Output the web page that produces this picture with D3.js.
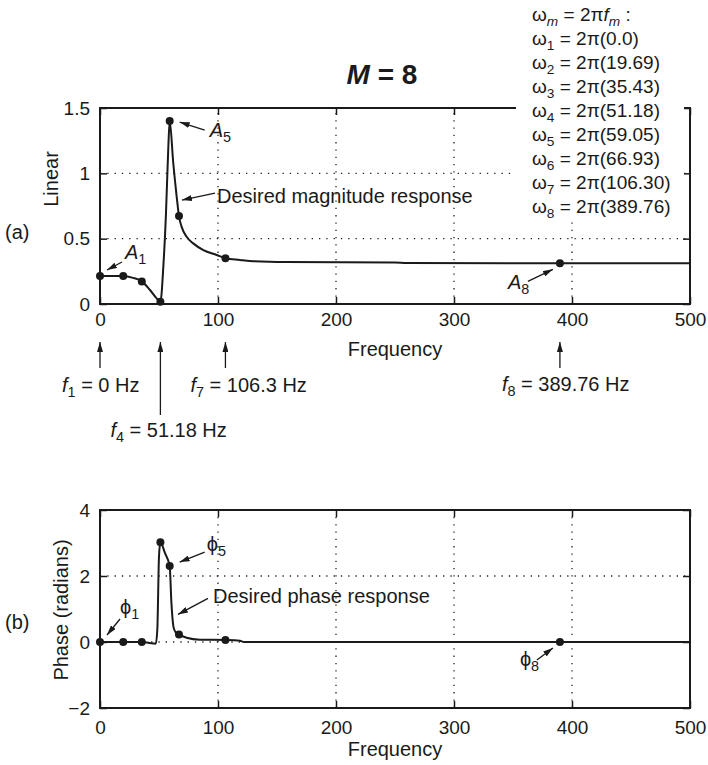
<!DOCTYPE html>
<html>
<head>
<meta charset="utf-8">
<script src="https://cdn.jsdelivr.net/npm/d3@7"></script>
<style>
  body { margin: 0; background: #fff; }
  svg { font-family: "Liberation Sans", Arial, sans-serif; fill: #1a1a1a; }
</style>
</head>
<body>
<script>
// sample frequencies (Hz) and the desired response at them
var markFreq = [0, 19.69, 35.43, 51.18, 59.05, 66.93, 106.30, 389.76];
var freqLabels = ["0.0", "19.69", "35.43", "51.18", "59.05", "66.93", "106.30", "389.76"];
var magMark = [0.214, 0.214, 0.173, 0.018, 1.40, 0.673, 0.35, 0.311];
var phaseMark = [0, 0, 0, 3.02, 2.30, 0.23, 0.06, 0];

// continuous curves
var magCurveFreq = [0, 10, 19.69, 28, 35.43, 42.4, 48, 51.18, 53.7, 55.9, 57.9, 59.05, 62.1, 65, 66.93, 69.2, 73.4, 79, 87.6, 98.9, 106.3, 118.6, 127, 158, 250, 260, 389.76, 500];
var magCurveVal  = [0.214, 0.214, 0.214, 0.20, 0.173, 0.107, 0.043, 0.018, 0.29, 0.69, 1.20, 1.40, 1.077, 0.82, 0.673, 0.59, 0.515, 0.464, 0.413, 0.375, 0.35, 0.337, 0.329, 0.321, 0.318, 0.313, 0.311, 0.311];
var phaseCurveFreq = [0, 19.69, 35.43, 42, 47.3, 48.6, 50, 51.18, 55.1, 59.05, 60.5, 62.3, 64, 66.93, 73.4, 84.7, 106.3, 118.6, 122, 389.76, 500];
var phaseCurveVal  = [0, 0, 0, -0.03, -0.05, 0.4, 2.6, 3.02, 2.69, 2.30, 1.2, 0.45, 0.3, 0.23, 0.13, 0.07, 0.06, 0.04, 0, 0, 0];

var xTicks = [0, 100, 200, 300, 400, 500];
var magTicks = [0, 0.5, 1, 1.5];
var phaseTicks = [-2, 0, 2, 4];

var PHI = "\u03d5";

window.onload = function() {
    var svg = d3.select("body").append("svg")
        .attr("width", 708).attr("height", 765);

    var defs = svg.append("defs");
    defs.append("marker")
        .attr("id", "ah")
        .attr("viewBox", "0 0 10 6")
        .attr("refX", 10).attr("refY", 3)
        .attr("markerWidth", 10).attr("markerHeight", 6)
        .attr("markerUnits", "userSpaceOnUse")
        .attr("orient", "auto")
        .append("path").attr("d", "M0,0L10,3L0,6z").style("fill", "#1a1a1a");

    var x = d3.scaleLinear().domain([0, 500]).range([100, 690]);
    var yMag = d3.scaleLinear().domain([0, 1.5]).range([304, 108]);
    var yPh = d3.scaleLinear().domain([-2, 4]).range([708, 510]);
    var fmt = d3.format("");

    // text with italic / subscript pieces
    function rich(g, px, py, parts, size) {
        var t = g.append("text").attr("x", px).attr("y", py).style("font-size", size + "px");
        var down = false;
        parts.forEach(function(p) {
            var s = t.append("tspan").text(p.t);
            if (p.it) s.style("font-style", "italic");
            if (p.sub && !down) { s.attr("dy", 5).style("font-size", (size * 0.72) + "px"); down = true; }
            else if (p.sub) { s.style("font-size", (size * 0.72) + "px"); }
            else if (down) { s.attr("dy", -5); down = false; }
        });
        return t;
    }

    function panel(y, yTicks, gridY, cf, cv, mv, xPad) {
        var g = svg.append("g");
        var y0 = y.range()[0], y1 = y.range()[1];

        // dotted grid
        g.selectAll(".gx").data([100, 200, 300, 400]).enter().append("line")
            .attr("x1", function(d) { return x(d); }).attr("x2", function(d) { return x(d); })
            .attr("y1", y0).attr("y2", y1)
            .style("stroke", "#222").style("stroke-width", 1.3).style("stroke-dasharray", "1.3,6");
        g.selectAll(".gy").data(gridY).enter().append("line")
            .attr("x1", x(0)).attr("x2", x(500))
            .attr("y1", function(d) { return y(d); }).attr("y2", function(d) { return y(d); })
            .style("stroke", "#222").style("stroke-width", 1.3).style("stroke-dasharray", "1.3,6");

        g.append("g").attr("transform", "translate(0," + y0 + ")")
            .call(d3.axisBottom(x).tickValues(xTicks).tickFormat(fmt).tickSizeInner(-7).tickSizeOuter(0).tickPadding(xPad));
        g.append("g").attr("transform", "translate(" + x(0) + ",0)")
            .call(d3.axisLeft(y).tickValues(yTicks).tickFormat(fmt).tickSizeInner(-7).tickSizeOuter(0).tickPadding(10));
        g.append("g").attr("transform", "translate(0," + y1 + ")")
            .call(d3.axisTop(x).tickValues(xTicks).tickSizeInner(-7).tickSizeOuter(0).tickFormat(""));
        g.append("g").attr("transform", "translate(" + x(500) + ",0)")
            .call(d3.axisRight(y).tickValues(yTicks).tickSizeInner(-7).tickSizeOuter(0).tickFormat(""));
        g.selectAll(".domain").remove();
        g.selectAll(".tick line").style("stroke", "#1a1a1a").style("stroke-width", 1.5);
        g.selectAll(".tick text").style("font-size", "19px").style("font-family", "Liberation Sans, Arial, sans-serif").attr("fill", "#1a1a1a");

        g.append("rect")
            .attr("x", x(0)).attr("y", y1)
            .attr("width", x(500) - x(0)).attr("height", y0 - y1)
            .style("fill", "none").style("stroke", "#1a1a1a").style("stroke-width", 2);

        var pts = cf.map(function(f, i) { return [f, cv[i]]; });
        g.append("path").datum(pts)
            .attr("d", d3.line().x(function(d) { return x(d[0]); }).y(function(d) { return y(d[1]); }).curve(d3.curveMonotoneX))
            .style("fill", "none").style("stroke", "#1a1a1a").style("stroke-width", 2);

        g.selectAll(".dot").data(markFreq).enter().append("circle")
            .attr("cx", function(d) { return x(d); })
            .attr("cy", function(d, i) { return y(mv[i]); })
            .attr("r", 4).style("fill", "#1a1a1a");
        return g;
    }

    var gA = panel(yMag, magTicks, [0.5, 1], magCurveFreq, magCurveVal, magMark, 9);
    var gB = panel(yPh, phaseTicks, [0, 2], phaseCurveFreq, phaseCurveVal, phaseMark, 13);

    // annotations attached to marker points
    function annotate(g, y, mv, list) {
        list.forEach(function(a) {
            var px = x(markFreq[a.i]), py = y(mv[a.i]);
            g.append("line")
                .attr("x1", px + a.tail[0]).attr("y1", py + a.tail[1])
                .attr("x2", px + a.head[0]).attr("y2", py + a.head[1])
                .style("stroke", "#1a1a1a").style("stroke-width", 1.3)
                .attr("marker-end", "url(#ah)");
            rich(g, px + a.txt[0], py + a.txt[1], a.parts, a.size || 20);
        });
    }

    annotate(gA, yMag, magMark, [
        { i: 0, head: [7, -6], tail: [22, -14], txt: [25, -17], parts: [{ t: "A", it: 1 }, { t: "1", sub: 1 }] },
        { i: 4, head: [10, 1], tail: [35, 9], txt: [40, 16], parts: [{ t: "A", it: 1 }, { t: "5", sub: 1 }] },
        { i: 5, head: [3, -16], tail: [36, -23], txt: [38, -13], parts: [{ t: "Desired magnitude response" }] },
        { i: 7, head: [-7, 6], tail: [-32, 18], txt: [-52, 26], parts: [{ t: "A", it: 1 }, { t: "8", sub: 1 }] }
    ]);
    annotate(gB, yPh, phaseMark, [
        { i: 0, head: [7, -7], tail: [20, -23], txt: [20, -28], parts: [{ t: PHI }, { t: "1", sub: 1 }] },
        { i: 4, head: [10, -4], tail: [35, -14], txt: [37, -15], parts: [{ t: PHI }, { t: "5", sub: 1 }] },
        { i: 5, head: [-1, -20], tail: [29, -36], txt: [34, -31], parts: [{ t: "Desired phase response" }] },
        { i: 7, head: [-7, 6], tail: [-23, 18], txt: [-40, 24], parts: [{ t: PHI }, { t: "8", sub: 1 }] }
    ]);

    // frequency call-outs under panel (a)
    var fAnn = [
        { i: 0, y2: 368, dx: -38, base: 392, sub: "1", rest: " = 0 Hz" },
        { i: 3, y2: 415, dx: -50, base: 437, sub: "4", rest: " = 51.18 Hz" },
        { i: 6, y2: 368, dx: -35, base: 392, sub: "7", rest: " = 106.3 Hz" },
        { i: 7, y2: 368, dx: -58, base: 391, sub: "8", rest: " = 389.76 Hz" }
    ];
    fAnn.forEach(function(a) {
        var px = x(markFreq[a.i]);
        svg.append("line")
            .attr("x1", px).attr("y1", a.y2).attr("x2", px).attr("y2", 342)
            .style("stroke", "#1a1a1a").style("stroke-width", 1.3)
            .attr("marker-end", "url(#ah)");
        rich(svg, px + a.dx, a.base, [{ t: "f", it: 1 }, { t: a.sub, sub: 1 }, { t: a.rest }], 20);
    });

    // axis titles
    svg.append("text").attr("x", 395).attr("y", 356).attr("text-anchor", "middle")
        .style("font-size", "20px").text("Frequency");
    svg.append("text").attr("x", 395).attr("y", 756).attr("text-anchor", "middle")
        .style("font-size", "20px").text("Frequency");
    svg.append("text").attr("transform", "translate(58,179) rotate(-90)").attr("text-anchor", "middle")
        .style("font-size", "20px").text("Linear");
    svg.append("text").attr("transform", "translate(68,610) rotate(-90)").attr("text-anchor", "middle")
        .style("font-size", "20px").text("Phase (radians)");
    svg.append("text").attr("x", 5).attr("y", 239).style("font-size", "20px").text("(a)");
    svg.append("text").attr("x", 5).attr("y", 629).style("font-size", "20px").text("(b)");

    // title
    var tt = svg.append("text").attr("x", 382).attr("y", 84).attr("text-anchor", "middle")
        .style("font-size", "28px").style("font-weight", "bold");
    tt.append("tspan").style("font-style", "italic").text("M");
    tt.append("tspan").text(" = 8");

    // omega legend, white box over the corner of panel (a)
    svg.append("rect").attr("x", 516).attr("y", 0).attr("width", 168).attr("height", 222).style("fill", "#fff");
    var lg = svg.append("g");
    rich(lg, 532, 21, [{ t: "\u03c9" }, { t: "m", sub: 1, it: 1 }, { t: " = 2\u03c0" }, { t: "f", it: 1 }, { t: "m", sub: 1, it: 1 }, { t: " :" }], 19);
    freqLabels.forEach(function(s, k) {
        rich(lg, 532, 45 + k * 24, [{ t: "\u03c9" }, { t: String(k + 1), sub: 1 }, { t: " = 2\u03c0(" + s + ")" }], 19);
    });
};
</script>
</body>
</html>
